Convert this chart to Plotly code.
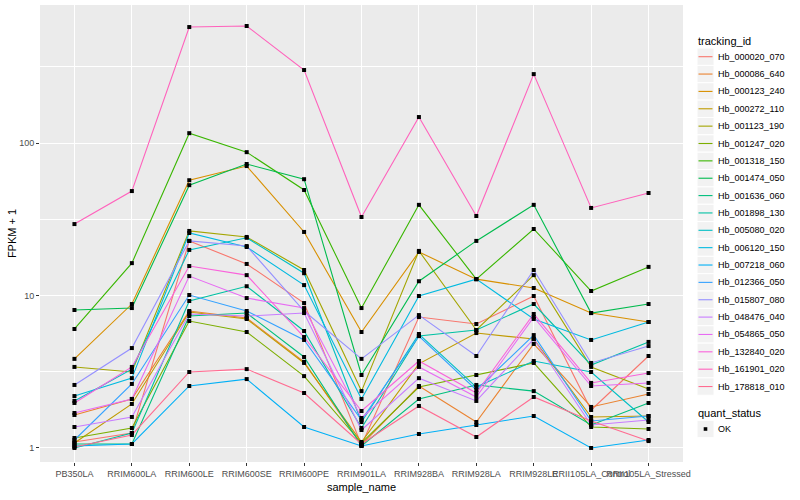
import plotly.graph_objects as go

samples = ["PB350LA", "RRIM600LA", "RRIM600LE", "RRIM600SE", "RRIM600PE", "RRIM901LA",
           "RRIM928BA", "RRIM928LA", "RRIM928LE", "RRII105LA_Control", "RRII105LA_Stressed"]

tracking_ids = ["Hb_000020_070", "Hb_000086_640", "Hb_000123_240", "Hb_000272_110",
                "Hb_001123_190", "Hb_001247_020", "Hb_001318_150", "Hb_001474_050",
                "Hb_001636_060", "Hb_001898_130", "Hb_005080_020", "Hb_006120_150",
                "Hb_007218_060", "Hb_012366_050", "Hb_015807_080", "Hb_048476_040",
                "Hb_054865_050", "Hb_132840_020", "Hb_161901_020", "Hb_178818_010"]

colors = ["#F8766D", "#EA8331", "#D89000", "#C09B00", "#A3A500", "#7CAE00", "#39B600",
          "#00BB4E", "#00BF7D", "#00C1A3", "#00BFC4", "#00BAE0", "#00B0F6", "#35A2FF",
          "#9590FF", "#C77CFF", "#E76BF3", "#FA62DB", "#FF62BC", "#FF6C91"]

quant_status = ["OK"]

# FPKM + 1 per sample, one list per tracking_id
hb_000020_070 = [1.095, 1.254, 22.8, 16.1, 8.92, 1.046, 7.22, 6.50, 9.92, 1.775, 4.01]
hb_000086_640 = [1.646, 2.096, 7.91, 7.11, 3.67, 1.046, 2.55, 1.48, 4.81, 1.858, 2.26]
hb_000123_240 = [3.84, 8.79, 57.0, 70.6, 26.1, 5.76, 19.3, 12.8, 11.2, 7.67, 6.70]
hb_000272_110 = [1.078, 1.944, 7.79, 7.01, 3.61, 1.095, 3.56, 5.67, 5.18, 1.597, 1.621]
hb_001123_190 = [3.40, 3.15, 26.5, 24.2, 14.7, 2.36, 19.6, 5.94, 13.6, 3.40, 2.44]
hb_001247_020 = [1.163, 1.352, 6.80, 5.76, 2.96, 1.078, 2.51, 3.01, 3.61, 1.373, 1.332]
hb_001318_150 = [6.03, 16.3, 116.0, 87.1, 49.2, 8.27, 39.3, 12.8, 27.3, 10.7, 15.4]
hb_001474_050 = [8.03, 8.27, 52.9, 72.8, 57.9, 3.01, 12.4, 22.8, 39.3, 7.67, 8.79]
hb_001636_060 = [1.062, 1.062, 7.33, 7.67, 3.95, 1.03, 2.096, 2.59, 2.36, 1.415, 1.973]
hb_001898_130 = [1.00, 1.254, 9.20, 11.5, 5.85, 1.352, 5.42, 5.94, 8.79, 3.50, 4.96]
hb_005080_020 = [2.034, 3.29, 19.9, 23.9, 14.0, 1.48, 5.59, 2.51, 3.72, 3.15, 1.48]
hb_006120_150 = [2.19, 2.87, 25.7, 20.8, 11.7, 2.096, 9.92, 12.8, 7.01, 5.11, 6.70]
hb_007218_060 = [1.03, 1.062, 2.55, 2.83, 1.373, 1.03, 1.235, 1.415, 1.621, 1.00, 1.128]
hb_012366_050 = [1.128, 2.63, 10.07, 7.91, 5.11, 1.526, 5.42, 2.40, 5.50, 1.503, 1.621]
hb_015807_080 = [2.59, 4.52, 22.8, 21.1, 7.91, 3.84, 7.44, 4.01, 14.7, 3.61, 4.66]
hb_048476_040 = [1.373, 1.597, 7.56, 7.33, 7.67, 1.312, 2.87, 2.034, 5.18, 1.415, 1.526]
hb_054865_050 = [1.696, 2.096, 13.4, 9.62, 8.27, 1.573, 3.40, 2.16, 7.22, 2.55, 2.67]
hb_132840_020 = [1.973, 3.40, 15.6, 13.6, 5.34, 1.748, 3.72, 2.294, 7.56, 2.67, 3.10]
hb_161901_020 = [29.4, 48.4, 576.0, 585.0, 301.0, 32.7, 148.0, 33.2, 283.0, 37.5, 47.0]
hb_178818_010 = [1.015, 1.217, 3.15, 3.29, 2.294, 1.062, 1.886, 1.18, 2.16, 1.503, 1.11]

series = [hb_000020_070, hb_000086_640, hb_000123_240, hb_000272_110, hb_001123_190,
          hb_001247_020, hb_001318_150, hb_001474_050, hb_001636_060, hb_001898_130,
          hb_005080_020, hb_006120_150, hb_007218_060, hb_012366_050, hb_015807_080,
          hb_048476_040, hb_054865_050, hb_132840_020, hb_161901_020, hb_178818_010]

y_major = [1, 10, 100]
y_major_text = ["1", "10", "100"]
y_minor = [3.1623, 31.623, 316.23]

FONT = "Liberation Sans, Arial, sans-serif"
W, H = 800, 500
ML, MR, MT, MB = 40, 117, 5, 38
PW, PH = W - ML - MR, H - MT - MB


def xp(px):
    return (px - ML) / PW


def yp(py):
    return (H - MB - py) / PH


fig = go.Figure()
for name, col, vals in zip(tracking_ids, colors, series):
    fig.add_trace(go.Scatter(x=samples, y=vals, mode="lines", name=name, showlegend=False,
                             line=dict(color=col, width=1.1)))

for name, vals in zip(tracking_ids, series):
    fig.add_trace(go.Scatter(x=samples, y=vals, mode="markers", showlegend=False,
                             name=quant_status[0],
                             marker=dict(color="black", size=4, symbol="square",
                                         line=dict(width=0)),
                             hoverinfo="skip"))

# ggplot-style legend drawn in paper space
shapes, annotations = [], []
KEY_L, KEY_R, TXT_X = 697, 714, 716
STEP = 17.36
first_y = 56.7
annotations.append(dict(xref="paper", yref="paper", x=xp(KEY_L - 1), y=yp(40.5),
                        text="tracking_id", showarrow=False, xanchor="left",
                        yanchor="middle", font=dict(size=11, color="black")))
for i, (name, col) in enumerate(zip(tracking_ids, colors)):
    cy = first_y + i * STEP
    shapes.append(dict(type="rect", xref="paper", yref="paper",
                       x0=xp(KEY_L), x1=xp(KEY_R), y0=yp(cy - STEP / 2), y1=yp(cy + STEP / 2),
                       fillcolor="#F2F2F2", line=dict(color="white", width=1), layer="above"))
    shapes.append(dict(type="line", xref="paper", yref="paper",
                       x0=xp(KEY_L + 1.5), x1=xp(KEY_R - 1.5), y0=yp(cy), y1=yp(cy),
                       line=dict(color=col, width=1.1), layer="above"))
    annotations.append(dict(xref="paper", yref="paper", x=xp(TXT_X), y=yp(cy),
                            text=name, showarrow=False, xanchor="left", yanchor="middle",
                            font=dict(size=9, color="black")))

qs_title_y = 412.5
qs_key_y = 429
annotations.append(dict(xref="paper", yref="paper", x=xp(KEY_L - 1), y=yp(qs_title_y),
                        text="quant_status", showarrow=False, xanchor="left",
                        yanchor="middle", font=dict(size=11, color="black")))
for j, qs in enumerate(quant_status):
    cy = qs_key_y + j * STEP
    shapes.append(dict(type="rect", xref="paper", yref="paper",
                       x0=xp(KEY_L), x1=xp(KEY_R), y0=yp(cy - STEP / 2), y1=yp(cy + STEP / 2),
                       fillcolor="#F2F2F2", line=dict(color="white", width=1), layer="above"))
    shapes.append(dict(type="rect", xref="paper", yref="paper",
                       x0=xp((KEY_L + KEY_R) / 2 - 1.8), x1=xp((KEY_L + KEY_R) / 2 + 1.8),
                       y0=yp(cy - 1.8), y1=yp(cy + 1.8),
                       fillcolor="black", line=dict(width=0), layer="above"))
    annotations.append(dict(xref="paper", yref="paper", x=xp(TXT_X), y=yp(cy),
                            text=qs, showarrow=False, xanchor="left", yanchor="middle",
                            font=dict(size=9, color="black")))

fig.update_layout(
    width=W, height=H,
    margin=dict(l=ML, r=MR, t=MT, b=MB, autoexpand=False),
    paper_bgcolor="white", plot_bgcolor="#EBEBEB",
    font=dict(family=FONT, size=9, color="#4D4D4D"),
    showlegend=False, hovermode=False,
    shapes=shapes, annotations=annotations,
    xaxis=dict(
        title=dict(text="sample_name", font=dict(size=11, color="black"), standoff=5),
        type="category", categoryorder="array", categoryarray=samples,
        showgrid=True, gridcolor="white", gridwidth=1.1, tickangle=0,
        ticks="outside", ticklen=3, tickcolor="#333333",
        tickfont=dict(size=9, color="#4D4D4D"), zeroline=False, showline=False,
        range=[-0.6, len(samples) - 0.4], automargin=False,
    ),
    yaxis=dict(
        title=dict(text="FPKM + 1", font=dict(size=11, color="black"), standoff=0),
        type="log", range=[-0.092, 2.905],
        tickmode="array", tickvals=y_major, ticktext=y_major_text,
        showgrid=True, gridcolor="white", gridwidth=1.1,
        ticks="outside", ticklen=3, tickcolor="#333333",
        tickfont=dict(size=9, color="#4D4D4D"), zeroline=False, showline=False,
        automargin=False,
        minor=dict(tickmode="array", tickvals=y_minor, showgrid=True,
                   gridcolor="white", gridwidth=0.5, ticks=""),
    ),
)

fig.write_html("out.html", config={"displayModeBar": False},
               post_script="document.body.style.margin='0';document.body.style.padding='0';")
